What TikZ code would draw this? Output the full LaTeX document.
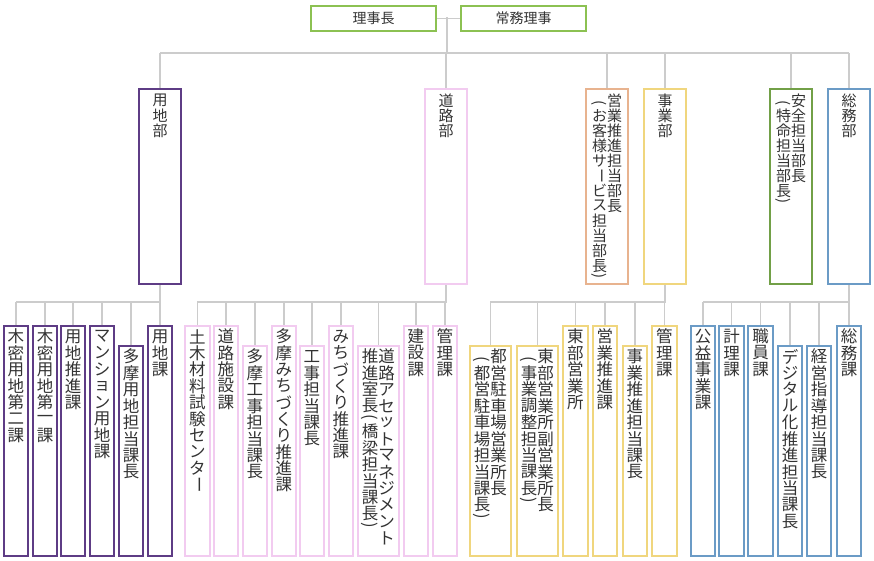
\documentclass[tikz,border=0pt]{standalone}
\usepackage{fontspec}
\setmainfont{Noto Sans CJK JP}
\usetikzlibrary{calc}
\definecolor{cTop}{HTML}{8CC152}
\definecolor{cYochi}{HTML}{5E3C85}
\definecolor{cDoro}{HTML}{F2CBF0}
\definecolor{cEigyo}{HTML}{E8B38F}
\definecolor{cJigyo}{HTML}{F0D67E}
\definecolor{cAnzen}{HTML}{72A047}
\definecolor{cSomu}{HTML}{6B9BC6}
\definecolor{cLine}{HTML}{CCCCCC}
\definecolor{cText}{HTML}{333333}
% vertical text: one character per row
\def\vrow#1#2{\hbox to 1em{\hss\vbox to #1{\vss\hbox{#2}\vss}\hss}}
\def\vchar#1{\if#1(\vrow{.55em}{\rotatebox[origin=c]{-90}{(}}\else
  \if#1)\vrow{.55em}{\rotatebox[origin=c]{-90}{)}}\else
  \if#1ー\vrow{1em}{\rotatebox[origin=c]{-90}{ー}}\else
  \vrow{1em}{#1}\fi\fi\fi}
\def\vtloop#1{\ifx#1\relax\else\vchar{#1}\expandafter\vtloop\fi}
\newcommand\vt[1]{\vtop{\offinterlineskip\vtloop#1\relax}}
\def\conn{\draw[color=cLine, line width=1.5pt]}
% box with vertical text at its top
\newcommand\ubox[7]{%
  \node[draw=#2, line width=#7, minimum width=#4pt-#3pt, minimum height=555pt-#5pt,
        anchor=north west, inner sep=0pt] (#1) at (#3,#5) {};
  \node[anchor=north, inner sep=0pt, font=\fontsize{16.5}{17}\selectfont] at ($ (#1.north) + (0,3) $) {#6};}
\newcommand\dbox[6]{%
  \node[draw=#2, line width=2pt, minimum width=#4pt-#3pt, minimum height=195pt,
        anchor=north west, inner sep=0pt] (#1) at (#3,#5) {};
  \node[anchor=north, inner sep=0pt, font=\fontsize{15}{15}\selectfont] at ($ (#1.north) + (0,5) $) {#6};}

\begin{document}
\begin{tikzpicture}[x=1pt,y=-1pt,font=\fontsize{14}{16}\selectfont,text=cText]
\useasboundingbox (0,0) rectangle (874,560);

% ---------- top
\node[draw=cTop, line width=2pt, minimum width=125pt, minimum height=25pt, anchor=north west] (riji) at (310,5) {理事長};
\node[draw=cTop, line width=2pt, minimum width=125pt, minimum height=25pt, anchor=north west] (jomu) at (460,5) {常務理事};
\coordinate (topdrop) at (447,17);
\coordinate (topbus) at (447,53);
\conn (riji) -- (jomu);
\conn (topdrop) -- (topbus);

% ---------- departments
\dbox{yochi}{cYochi}{138}{180}{88}{\vt{用地部}}
\dbox{doro}{cDoro}{424}{466}{88}{\vt{道路部}}
\dbox{eigyo}{cEigyo}{585}{627}{88}{\hbox{\vt{(お客様サービス担当部長)}\vt{営業推進担当部長}}}
\dbox{jigyo}{cJigyo}{643}{685}{88}{\vt{事業部}}
\dbox{anzen}{cAnzen}{769}{811}{88}{\hbox{\vt{(特命担当部長)}\vt{安全担当部長}}}
\dbox{somu}{cSomu}{827}{869}{88}{\vt{総務部}}
\conn ($ (yochi.north) + (0,-35) $) -- ($ (somu.north) + (0,-35) $);
\foreach \d in {yochi,doro,eigyo,jigyo,anzen,somu}
  \conn (\d.north) -- ++(0,-35);

% ---------- 用地部
\ubox{y1}{cYochi}{3}{27}{325}{\vt{木密用地第二課}}{2pt}
\ubox{y2}{cYochi}{32}{56}{325}{\vt{木密用地第一課}}{2pt}
\ubox{y3}{cYochi}{60}{84}{325}{\vt{用地推進課}}{2pt}
\ubox{y4}{cYochi}{89}{113}{325}{\vt{マンション用地課}}{2pt}
\ubox{y5}{cYochi}{118}{142}{345}{\vt{多摩用地担当課長}}{2pt}
\ubox{y6}{cYochi}{147}{171}{325}{\vt{用地課}}{2pt}

% ---------- 道路部
\ubox{d1}{cDoro}{184}{209}{325}{\vt{土木材料試験センター}}{1.5pt}
\ubox{d2}{cDoro}{213}{237}{325}{\vt{道路施設課}}{1.5pt}
\ubox{d3}{cDoro}{242}{266}{345}{\vt{多摩工事担当課長}}{1.5pt}
\ubox{d4}{cDoro}{271}{295}{325}{\vt{多摩みちづくり推進課}}{1.5pt}
\ubox{d5}{cDoro}{299}{323}{345}{\vt{工事担当課長}}{1.5pt}
\ubox{d6}{cDoro}{328}{352}{325}{\vt{みちづくり推進課}}{1.5pt}
\ubox{d7}{cDoro}{357}{398}{345}{\hbox{\vt{推進室長(橋梁担当課長)}\vt{道路アセットマネジメント}}}{1.5pt}
\ubox{d8}{cDoro}{403}{427}{325}{\vt{建設課}}{1.5pt}
\ubox{d9}{cDoro}{432}{456}{325}{\vt{管理課}}{1.5pt}

% ---------- 事業部
\ubox{j1}{cJigyo}{469}{510}{345}{\hbox{\vt{(都営駐車場担当課長)}\vt{都営駐車場営業所長}}}{1.5pt}
\ubox{j2}{cJigyo}{516}{557}{345}{\hbox{\vt{(事業調整担当課長)}\vt{東部営業所副営業所長}}}{1.5pt}
\ubox{j3}{cJigyo}{562}{587}{325}{\vt{東部営業所}}{1.5pt}
\ubox{j4}{cJigyo}{592}{616}{325}{\vt{営業推進課}}{1.5pt}
\ubox{j5}{cJigyo}{622}{646}{345}{\vt{事業推進担当課長}}{1.5pt}
\ubox{j6}{cJigyo}{651}{676}{325}{\vt{管理課}}{1.5pt}

% ---------- 総務部
\ubox{s1}{cSomu}{690}{714}{325}{\vt{公益事業課}}{2pt}
\ubox{s2}{cSomu}{718}{743}{325}{\vt{計理課}}{2pt}
\ubox{s3}{cSomu}{747}{772}{325}{\vt{職員課}}{2pt}
\ubox{s4}{cSomu}{777}{801}{345}{\vt{デジタル化推進担当課長}}{2pt}
\ubox{s5}{cSomu}{806}{830}{345}{\vt{経営指導担当課長}}{2pt}
\ubox{s6}{cSomu}{836}{860}{325}{\vt{総務課}}{2pt}

% ---------- connectors to sections
\foreach \p/\first/\kids in {yochi/y1/{y1,y2,y3,y4,y5,y6},doro/d1/{d1,d2,d3,d4,d5,d6,d7,d8,d9},jigyo/j1/{j1,j2,j3,j4,j5,j6},somu/s1/{s1,s2,s3,s4,s5,s6}}{
  \conn (\p.south) -- (\p.south |- 0,302) -- (\first.north |- 0,302);
  \foreach \k in \kids
    \conn (\k.north) -- (\k.north |- 0,302);
}
\end{tikzpicture}
\end{document}
